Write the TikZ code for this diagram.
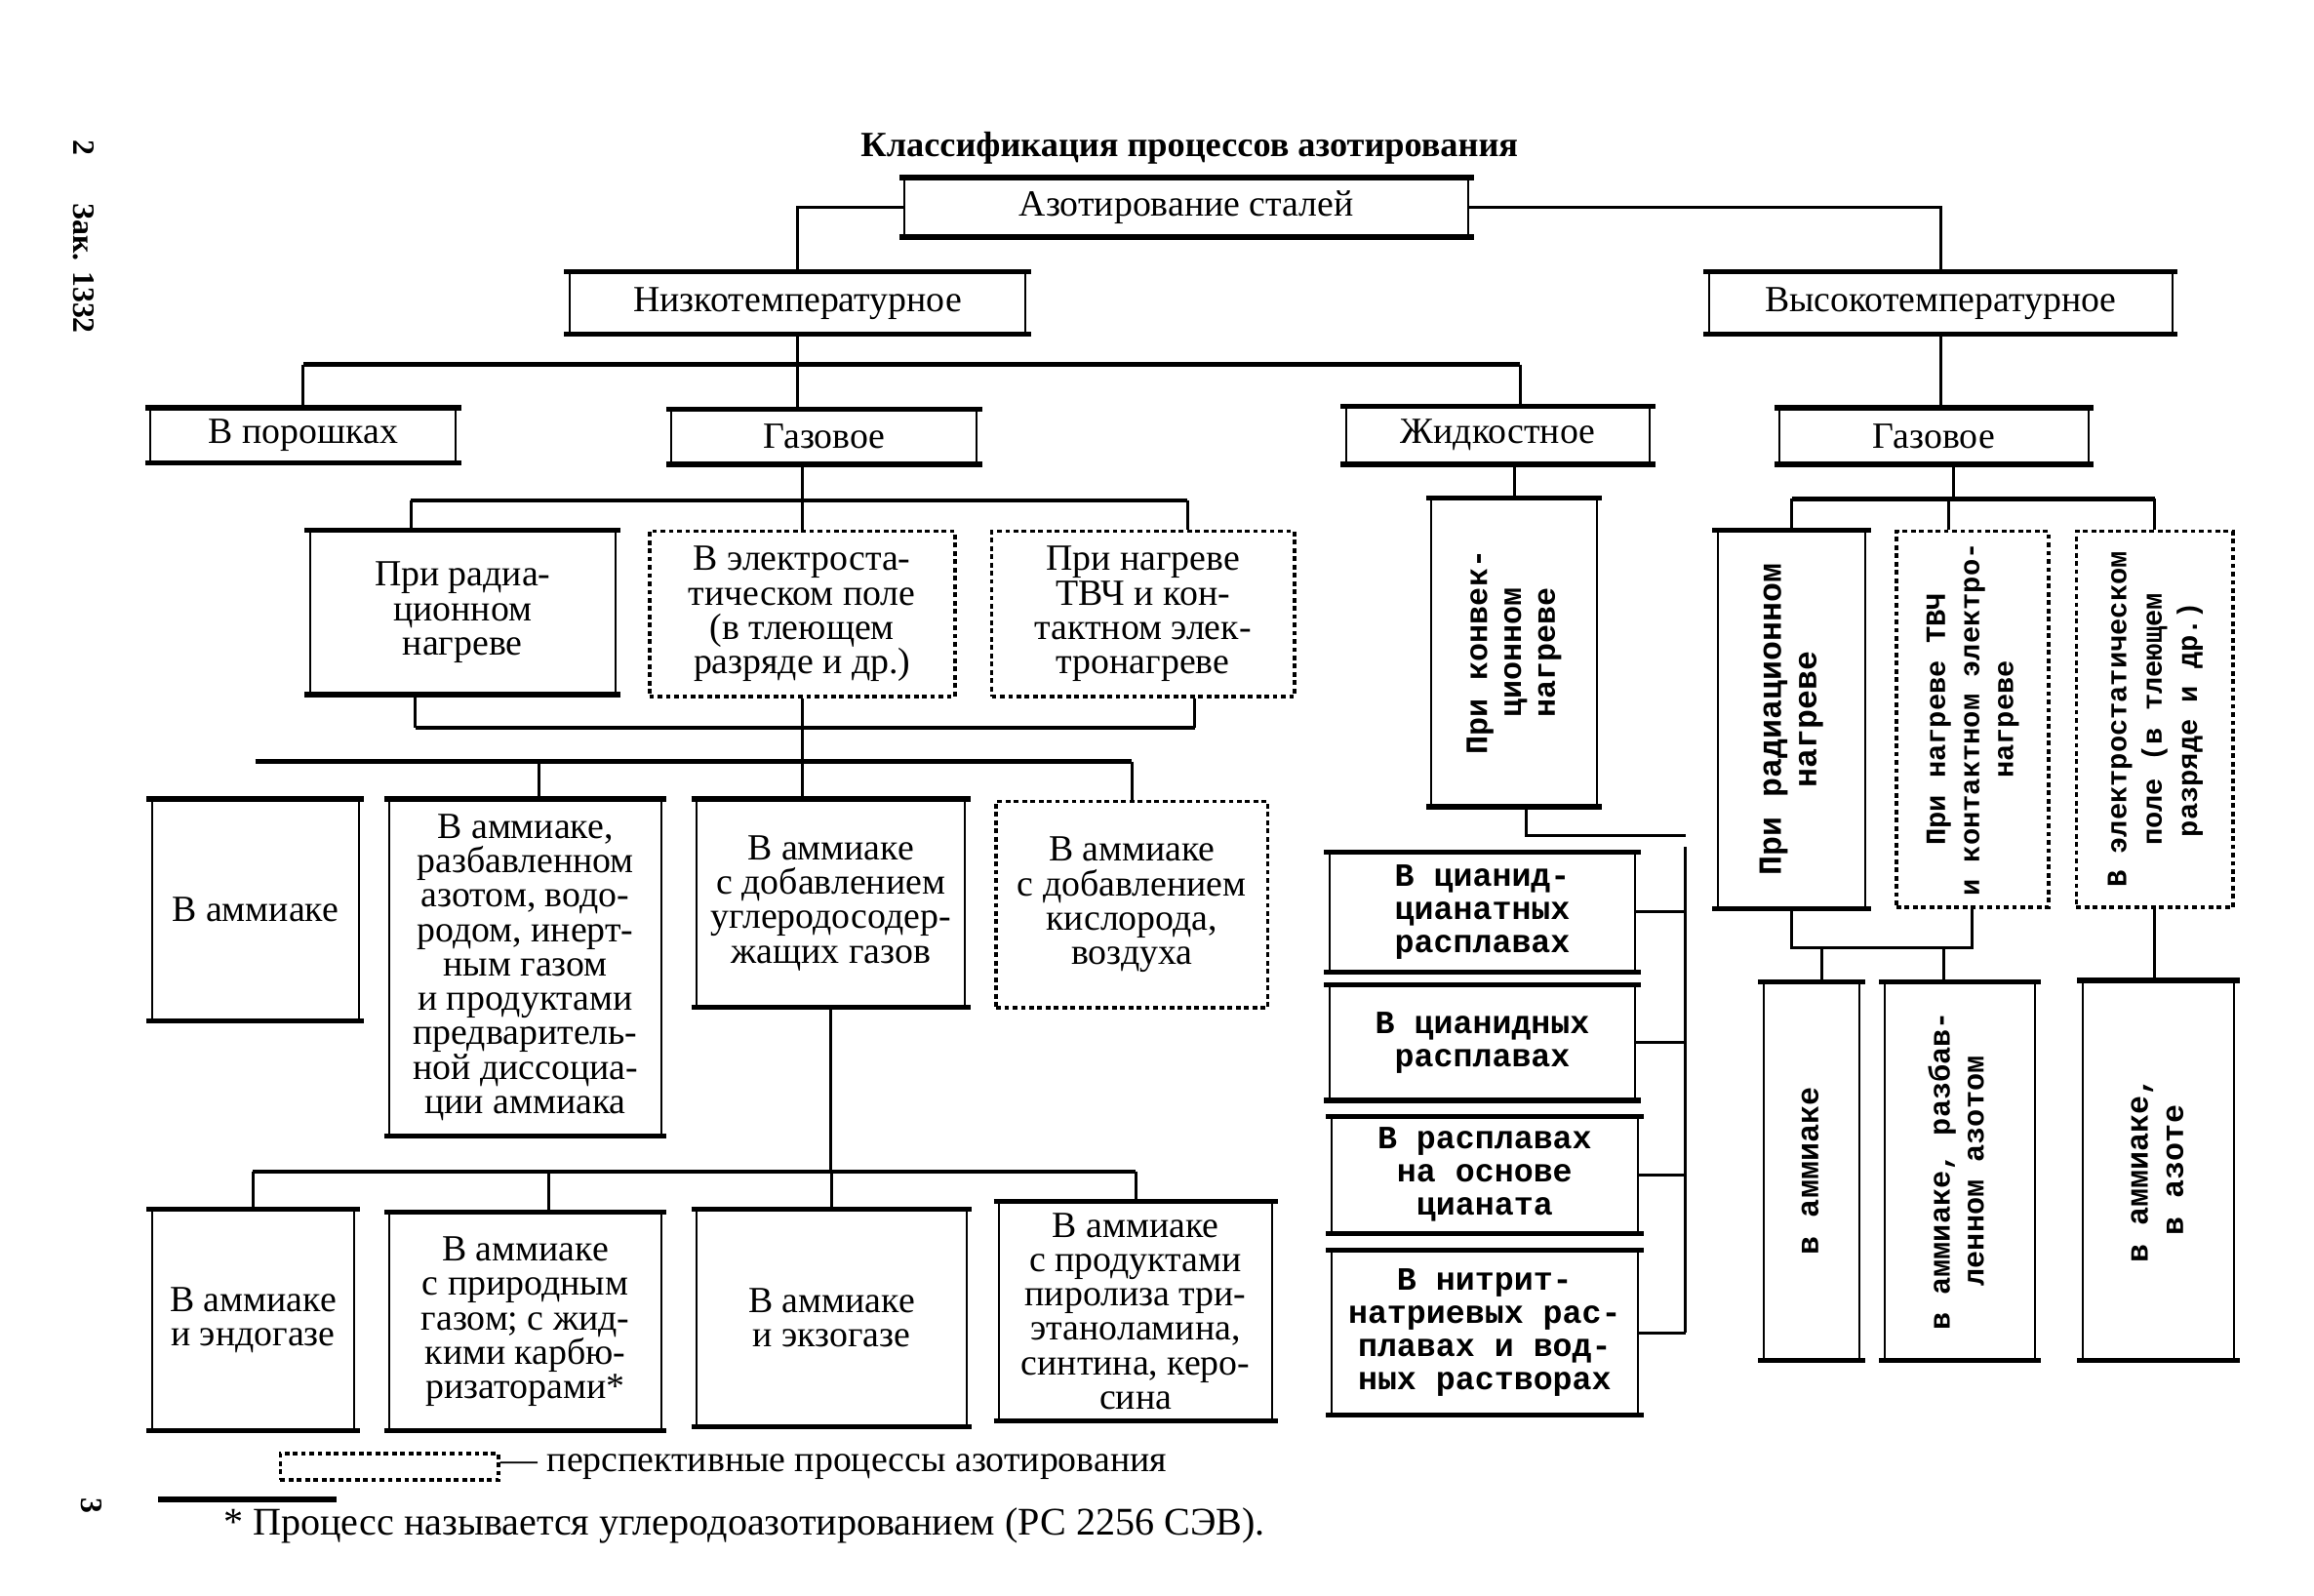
\documentclass[tikz,border=0pt]{standalone}
\usepackage{fontspec}
\setmainfont{Liberation Serif}
\newfontfamily\widefam{Liberation Mono}
\usepackage{tikz}

\newcommand\sertxt{\fontsize{25}{23.3}\selectfont}
\newcommand\wfont[2]{\widefam\bfseries\fontsize{#1}{#2}\selectfont}
\newcommand\vlab[2]{\rotatebox{90}{#1\begin{tabular}{@{}c@{}}#2\end{tabular}}}

\begin{document}
\begin{tikzpicture}[x=1pt,y=-1pt,
    bx/.style={draw, line width=1.3pt, inner sep=0pt, align=center, font=\sertxt},
    dbx/.style={bx, line width=2.5pt, dash pattern=on 3.2pt off 2.4pt},
    sz/.style 2 args={minimum width=#1pt, minimum height=#2pt},
    rule/.style={line width=3.4pt},
    ln/.style={line width=2pt},
    bus/.style={line width=3pt}]
    \fill[white] (0,0) rectangle (1568,1081);

    % margin
    \node[rotate=-90, font=\bfseries\fontsize{21}{21}\selectfont] (pg2) at (57,100) {2};
    \node[rotate=-90, font=\bfseries\fontsize{21}{21}\selectfont] (zak) at (57,182) {Зак. 1332};
    \node[rotate=-90, font=\bfseries\fontsize{21}{21}\selectfont] (pg3) at (62,1020) {3};

    \node[font=\bfseries\fontsize{24}{26}\selectfont] (title) at (806,100) {Классификация процессов азотирования};

    % top levels
    \node[bx, sz={382}{39}] (top) at (804,140.5) {Азотирование сталей};
    \node[bx, sz={309}{41}] (low) at (540.5,205.5) {Низкотемпературное};
    \node[bx, sz={314}{41}] (high) at (1315,205.5) {Высокотемпературное};
    \node[bx, sz={207}{36}] (pow) at (205.5,295) {В порошках};
    \node[bx, sz={207}{36}] (gas1) at (558.5,296) {Газовое};
    \node[bx, sz={206}{38}] (liq) at (1015,295) {Жидкостное};
    \node[bx, sz={209}{37}] (gas2) at (1310.5,295.5) {Газовое};

    % low temperature, gas
    \node[bx, sz={207}{110}] (rad1) at (313.5,415) {При радиа-\\ционном\\нагреве};
    \node[dbx, sz={207}{112}] (el1) at (543.5,416) {В электроста-\\тическом поле\\(в тлеющем\\разряде и др.)};
    \node[dbx, sz={205}{112}] (hf1) at (774.5,416) {При нагреве\\ТВЧ и кон-\\тактном элек-\\тронагреве};

    \node[bx, sz={140}{149}] (b1) at (173,616.5) {В аммиаке};
    \node[bx, sz={184}{227}] (b2) at (356,655.5) {В аммиаке,\\разбавленном\\азотом, водо-\\родом, инерт-\\ным газом\\и продуктами\\предваритель-\\ной диссоциа-\\ции аммиака};
    \node[bx, sz={182}{140}] (b3) at (563,612) {В аммиаке\\с добавлением\\углеродосодер-\\жащих газов};
    \node[dbx, sz={184}{140}] (b4) at (767,613) {В аммиаке\\с добавлением\\кислорода,\\воздуха};

    \node[bx, sz={137}{149}] (c1) at (171.5,894.5) {В аммиаке\\и эндогазе};
    \node[bx, sz={184}{147}] (c2) at (356,895.5) {В аммиаке\\с природным\\газом; с жид-\\кими карбю-\\ризаторами*};
    \node[bx, sz={183}{146}] (c3) at (563.5,893) {В аммиаке\\и экзогазе};
    \node[bx, sz={185}{147}] (c4) at (769.5,888.5) {В аммиаке\\с продуктами\\пиролиза три-\\этаноламина,\\синтина, керо-\\сина};

    % liquid
    \node[bx, sz={112}{208}] (conv) at (1026,442) {\vlab{\wfont{21}{23}}{При конвек-\\ционном\\нагреве}};
    \node[bx, font={\wfont{22}{22.5}}, sz={207}{80}] (l1) at (1004.5,618) {В цианид-\\цианатных\\расплавах};
    \node[bx, font={\wfont{22}{22.5}}, sz={207}{77}] (l2) at (1004.5,706.5) {В цианидных\\расплавах};
    \node[bx, font={\wfont{22}{22.5}}, sz={208}{78}] (l3) at (1006,796) {В расплавах\\на основе\\цианата};
    \node[bx, font={\wfont{22}{22.5}}, sz={208}{110}] (l4) at (1006,903) {В нитрит-\\натриевых рас-\\плавах и вод-\\ных растворах};

    % high temperature, gas
    \node[bx, sz={100}{255}] (h1) at (1214,487.5) {\vlab{\wfont{22}{24}}{При радиационном\\нагреве}};
    \node[dbx, sz={103}{255}] (h2) at (1336.5,487.5) {\vlab{\wfont{19}{23}}{При нагреве ТВЧ\\и контактном электро-\\нагреве}};
    \node[dbx, sz={106}{255}] (h3) at (1460,487.5) {\vlab{\wfont{19}{24}}{В электростатическом\\поле (в тлеющем\\разряде и др.)}};
    \node[bx, sz={65}{255}] (g1) at (1227.5,793.5) {\vlab{\wfont{21}{23}}{в аммиаке}};
    \node[bx, sz={102}{255}] (g2) at (1328,793.5) {\vlab{\wfont{20}{23}}{в аммиаке, разбав-\\ленном азотом}};
    \node[bx, sz={103}{256}] (g3) at (1462.5,793) {\vlab{\wfont{21}{24}}{в аммиаке,\\в азоте}};

    % thick rules of the boxes
    \foreach \n in {top,low,high,pow,gas1,liq,gas2,rad1,b1,b2,b3,c1,c2,c3,c4,conv,l1,l2,l3,l4,h1,g1,g2,g3}
        \draw[rule] ([xshift=-3pt]\n.north west) -- ([xshift=3pt]\n.north east)
                    ([xshift=-3pt]\n.south west) -- ([xshift=3pt]\n.south east);

    % legend and note
    \node[dbx, sz={148}{18}] (leg) at (264,994) {};
    \node[anchor=west, inner sep=0pt, font=\sertxt] (legtxt) at (leg.east) {— перспективные процессы азотирования};
    \draw[rule] (107,1016) -- (228,1016);
    \node[anchor=west, font=\fontsize{26.5}{28}\selectfont] (note) at (148,1034) {* Процесс называется углеродоазотированием (РС 2256 СЭВ).};

    % bus levels
    \coordinate (j1) at (0,247);
    \coordinate (j2) at (0,339);
    \coordinate (j3) at (0,493);
    \coordinate (j4) at (0,516);
    \coordinate (j5) at (0,794);
    \coordinate (j7) at (0,338);
    \coordinate (j8) at (0,642);
    \coordinate (rail) at (1142,566);
    % drop points off centre
    \coordinate (liqin) at ([xshift=15pt]liq.north);
    \coordinate (rad1in) at ([xshift=-35pt]rad1.north);
    \coordinate (hf1in) at ([xshift=30pt]hf1.north);
    \coordinate (rad1out) at ([xshift=-32pt]rad1.south);
    \coordinate (hf1out) at ([xshift=35pt]hf1.south);
    \coordinate (b2in) at ([xshift=9pt]b2.north);
    \coordinate (c2in) at ([xshift=16pt]c2.north);
    \coordinate (convout) at ([xshift=8pt]conv.south);
    \coordinate (gas2out) at ([xshift=13pt]gas2.south);
    \coordinate (h2in) at ([xshift=-16pt]h2.north);
    \coordinate (g1in) at ([xshift=7pt]g1.north);
    \coordinate (g2in) at ([xshift=-11pt]g2.north);

    % connectors, top
    \draw[ln] (top.west) -| (low.north);
    \draw[ln] (top.east) -| (high.north);
    \draw[ln] (low.south) -- (low.south |- gas1.north);
    \draw[bus] (pow.north |- j1) -- (liqin |- j1);
    \draw[ln] (pow.north |- j1) -- (pow.north);
    \draw[ln] (liqin |- j1) -- (liqin);
    \draw[ln] (high.south) -- (high.south |- gas2.north);

    % connectors, low temperature gas
    \draw[ln] (gas1.south -| el1.north) -- (el1.north);
    \draw[bus] (rad1in |- j2) -- (hf1in |- j2);
    \draw[ln] (rad1in |- j2) -- (rad1in);
    \draw[ln] (hf1in |- j2) -- (hf1in);
    \draw[ln] (rad1out) -- (rad1out |- j3);
    \draw[ln] (hf1out) -- (hf1out |- j3);
    \draw[bus] (rad1out |- j3) -- (hf1out |- j3);
    \draw[ln] (el1.south) -- (b3.north -| el1.south);
    \draw[bus] (b1.north |- j4) -- (b4.north |- j4);
    \foreach \n in {b2in,b4.north}
        \draw[ln] (\n |- j4) -- (\n);
    \draw[ln] (b3.south) -- (b3.south |- j5);
    \draw[bus] (c1.north |- j5) -- (c4.north |- j5);
    \foreach \n in {c1.north,c2in,c3.north,c4.north}
        \draw[ln] (\n |- j5) -- (\n);

    % connectors, liquid
    \draw[ln] (liq.south -| conv.north) -- (conv.north);
    \draw[ln] (convout) |- (rail);
    \draw[ln] ([yshift=-8pt]rail) -- (rail |- l4.east);
    \foreach \n in {l1,l2,l3,l4}
        \draw[ln] (\n.east) -- (\n.east -| rail);

    % connectors, high temperature gas
    \draw[ln] (gas2out) -- (gas2out |- j7);
    \draw[bus] (h1.north |- j7) -- (h3.north |- j7);
    \foreach \n in {h1.north,h2in,h3.north}
        \draw[ln] (\n |- j7) -- (\n);
    \draw[ln] (h1.south) -- (h1.south |- j8) -- (h2.south |- j8) -- (h2.south);
    \foreach \n in {g1in,g2in}
        \draw[ln] (\n |- j8) -- (\n);
    \draw[ln] (h3.south) -- (h3.south |- g3.north);
\end{tikzpicture}
\end{document}
